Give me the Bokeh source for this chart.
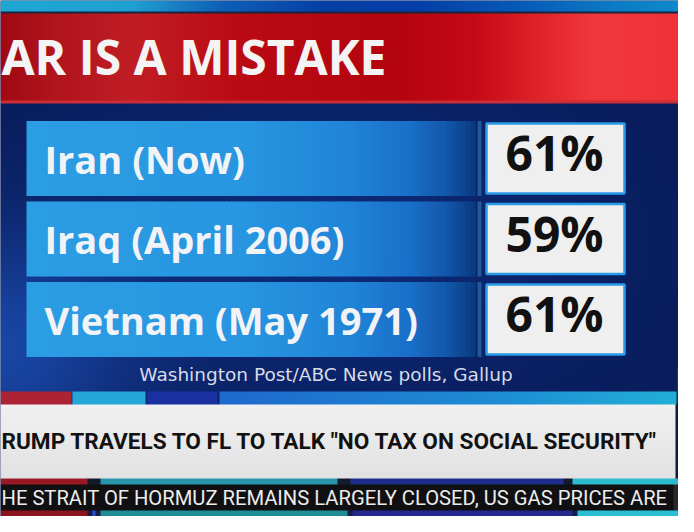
import numpy as np
from bokeh.plotting import figure
from bokeh.models import ColumnDataSource, Range1d
from bokeh.core.properties import value
from bokeh.embed import file_html
from bokeh.resources import INLINE

# ---------------- data ----------------
title_text = "AR IS A MISTAKE"
wars = ["Iran (Now)", "Iraq (April 2006)", "Vietnam (May 1971)"]
pct_mistake = [61, 59, 61]
source_note = "Washington Post/ABC News polls, Gallup"
lower_third = 'RUMP TRAVELS TO FL TO TALK "NO TAX ON SOCIAL SECURITY"'
ticker_text = "HE STRAIT OF HORMUZ REMAINS LARGELY CLOSED, US GAS PRICES ARE"

# ---------------- page geometry (page pixels) ----------------
W, H, M = 694, 532, 8
ROW0, ROWSTEP = 166.0, 80.5


def Y(page_y):
    return H - page_y


p = figure(width=W - 2 * M, height=H - 2 * M,
           x_range=Range1d(M, W - M), y_range=Range1d(M, H - M),
           output_backend="svg", toolbar_location=None, min_border=0)
p.axis.visible = False
p.grid.visible = False
p.outline_line_color = None
p.background_fill_color = "#0a1d58"
p.border_fill_color = "#0a1d58"

# ---------------- background (decoration) ----------------
xs = np.arange(W) + 0.5
ys = np.arange(H) + 0.5
img = np.zeros((H, W, 3), dtype=float)


def hgrad(stops):
    pos = [s[0] for s in stops]
    return np.stack([np.interp(xs, pos, [s[1][c] for s in stops]) for c in range(3)], axis=-1)


# navy base with soft glow
img[:, :] = (9, 28, 90)
gx, gy = np.meshgrid(xs, ys)
glow = np.exp(-(((gx - 0) / 140) ** 2 + ((gy - 360) / 120) ** 2))
glow2 = np.exp(-(((gx - 330) / 260) ** 2 + ((gy - 250) / 160) ** 2))
img += glow[..., None] * np.array([15, 40, 70]) + glow2[..., None] * np.array([4, 14, 30])

# top band
img[0:19, :] = hgrad([(0, (30, 168, 212)), (140, (32, 160, 210)), (230, (15, 95, 182)),
                      (330, (6, 64, 166)), (420, (5, 62, 166)), (520, (8, 88, 182)),
                      (620, (12, 122, 196)), (694, (15, 140, 205))])[None, :, :]
img[19:21, :] = (22, 36, 60)
# red banner
red = hgrad([(0, (158, 8, 18)), (60, (176, 20, 28)), (140, (192, 30, 36)), (250, (186, 10, 20)),
             (400, (180, 4, 14)), (480, (196, 10, 22)), (540, (222, 32, 40)), (600, (240, 56, 60)),
             (694, (238, 50, 56))])
img[21:110, :] = red[None, :, :]
img[108:111, :] = (205, 45, 55)

# colour strip above lower third
img[399:412, 4:79] = (172, 36, 52)
img[399:412, 80:153] = (36, 166, 214)
img[399:412, 155:225] = (26, 48, 160)
img[399:412, 227:684] = hgrad([(227, (30, 105, 205)), (500, (30, 140, 212)), (684, (34, 175, 215))])[None, 227:684, :]
img[375:410, 685:694] = (216, 16, 26)
img[373:376, 687:694] = (216, 16, 26)

# lower third white banner
vg = np.linspace(0, 1, 486 - 412)[:, None]
img[412:486, 0:683] = (np.array([241, 241, 241]) * (1 - vg) + np.array([226, 226, 228]) * vg)[:, None, :]
img[412:486, 683:694] = (16, 26, 60)

# strip between banner and ticker
img[486:492, :] = (20, 26, 46)
img[486:492, 0:95] = (150, 25, 36)
img[486:492, 108:345] = (40, 150, 172)
img[486:492, 358:571] = (30, 46, 140)
img[486:492, 580:694] = (46, 186, 206)

# ticker band
img[492:518, 0:681] = (16, 16, 18)
img[492:518, 681:694] = (40, 40, 46)
img[500:510, 688:694] = (150, 150, 150)

# bottom strip
img[518:532, :] = (20, 30, 70)
img[518:532, 0:95] = (140, 20, 30)
img[518:532, 100:103] = (40, 80, 210)
img[518:532, 108:355] = (30, 140, 150)
img[518:532, 360:580] = (36, 40, 140)
img[518:532, 585:694] = (42, 190, 210)

crop = np.clip(img[M:H - M, M:W - M], 0, 255).astype(np.uint8)[::-1]
rgba = np.empty(crop.shape[:2] + (4,), dtype=np.uint8)
rgba[..., :3] = crop
rgba[..., 3] = 255
rgba32 = rgba.view(dtype=np.uint32).reshape(crop.shape[:2])
p.image_rgba(image=[np.ascontiguousarray(rgba32)], x=M, y=M, dw=W - 2 * M, dh=H - 2 * M)

# ---------------- rows (data) ----------------
p.extra_y_ranges = {"rows": Range1d(start=(H - M - ROW0) / ROWSTEP, end=(M - ROW0) / ROWSTEP)}
src = ColumnDataSource(dict(idx=list(range(len(wars))), war=wars,
                            pct=[f"{v}%" for v in pct_mistake]))
bar_h = 75 / ROWSTEP

bar_stops = [(34, (44, 158, 228)), (250, (40, 150, 225)), (360, (32, 132, 215)),
             (420, (26, 110, 200)), (455, (18, 86, 168)), (483, (10, 58, 128))]
edges = np.linspace(34, 483, 91)
for a, b in zip(edges[:-1], edges[1:]):
    mid = (a + b) / 2
    col = tuple(int(np.interp(mid, [s[0] for s in bar_stops], [s[1][c] for s in bar_stops])) for c in range(3))
    p.hbar(y="idx", left=a, right=min(b + 1.0, 483), height=bar_h, source=src, y_range_name="rows",
           fill_color="#%02x%02x%02x" % col, line_color=None)

p.hbar(y="idx", left=485, right=489, height=bar_h, source=src, y_range_name="rows",
       fill_color="#1f5a98", line_color=None)
p.hbar(y="idx", left=494, right=632, height=70 / ROWSTEP, source=src, y_range_name="rows",
       fill_color="#efefef", line_color="#2a9be8", line_width=2.5)

p.text(x=52, y="idx", text="war", source=src, y_range_name="rows",
       text_font=value("Open Sans"), text_font_style="bold", text_font_size="38px",
       text_color="#f2f3f6", text_align="left", text_baseline="middle")
p.text(x=562, y="idx", text="pct", source=src, y_range_name="rows", y_offset=-6,
       text_font=value("Open Sans"), text_font_style="bold", text_font_size="48px",
       text_color="#111111", text_align="center", text_baseline="middle")

# ---------------- header / footer texts ----------------
p.text(x=[9], y=[Y(64)], text=[title_text], text_font=value("Open Sans"), text_font_style="bold",
       text_font_size="48px", text_color="#f4f4f4", text_align="left", text_baseline="middle")
p.text(x=[333.5], y=[Y(382)], text=[source_note], text_font=value("DejaVu Sans"),
       text_font_size="18.5px", text_color="#d6dbe6", text_align="center", text_baseline="middle")
p.text(x=[9], y=[Y(449)], text=[lower_third], text_font=value("Roboto"),
       text_font_style="bold", text_font_size="22.6px", text_color="#121212",
       text_align="left", text_baseline="middle")
p.text(x=[9], y=[Y(505)], text=[ticker_text], text_font=value("Roboto"),
       text_font_size="20.2px", text_color="#ececec", text_align="left", text_baseline="middle")

open("out.html", "w").write(file_html(p, INLINE))
